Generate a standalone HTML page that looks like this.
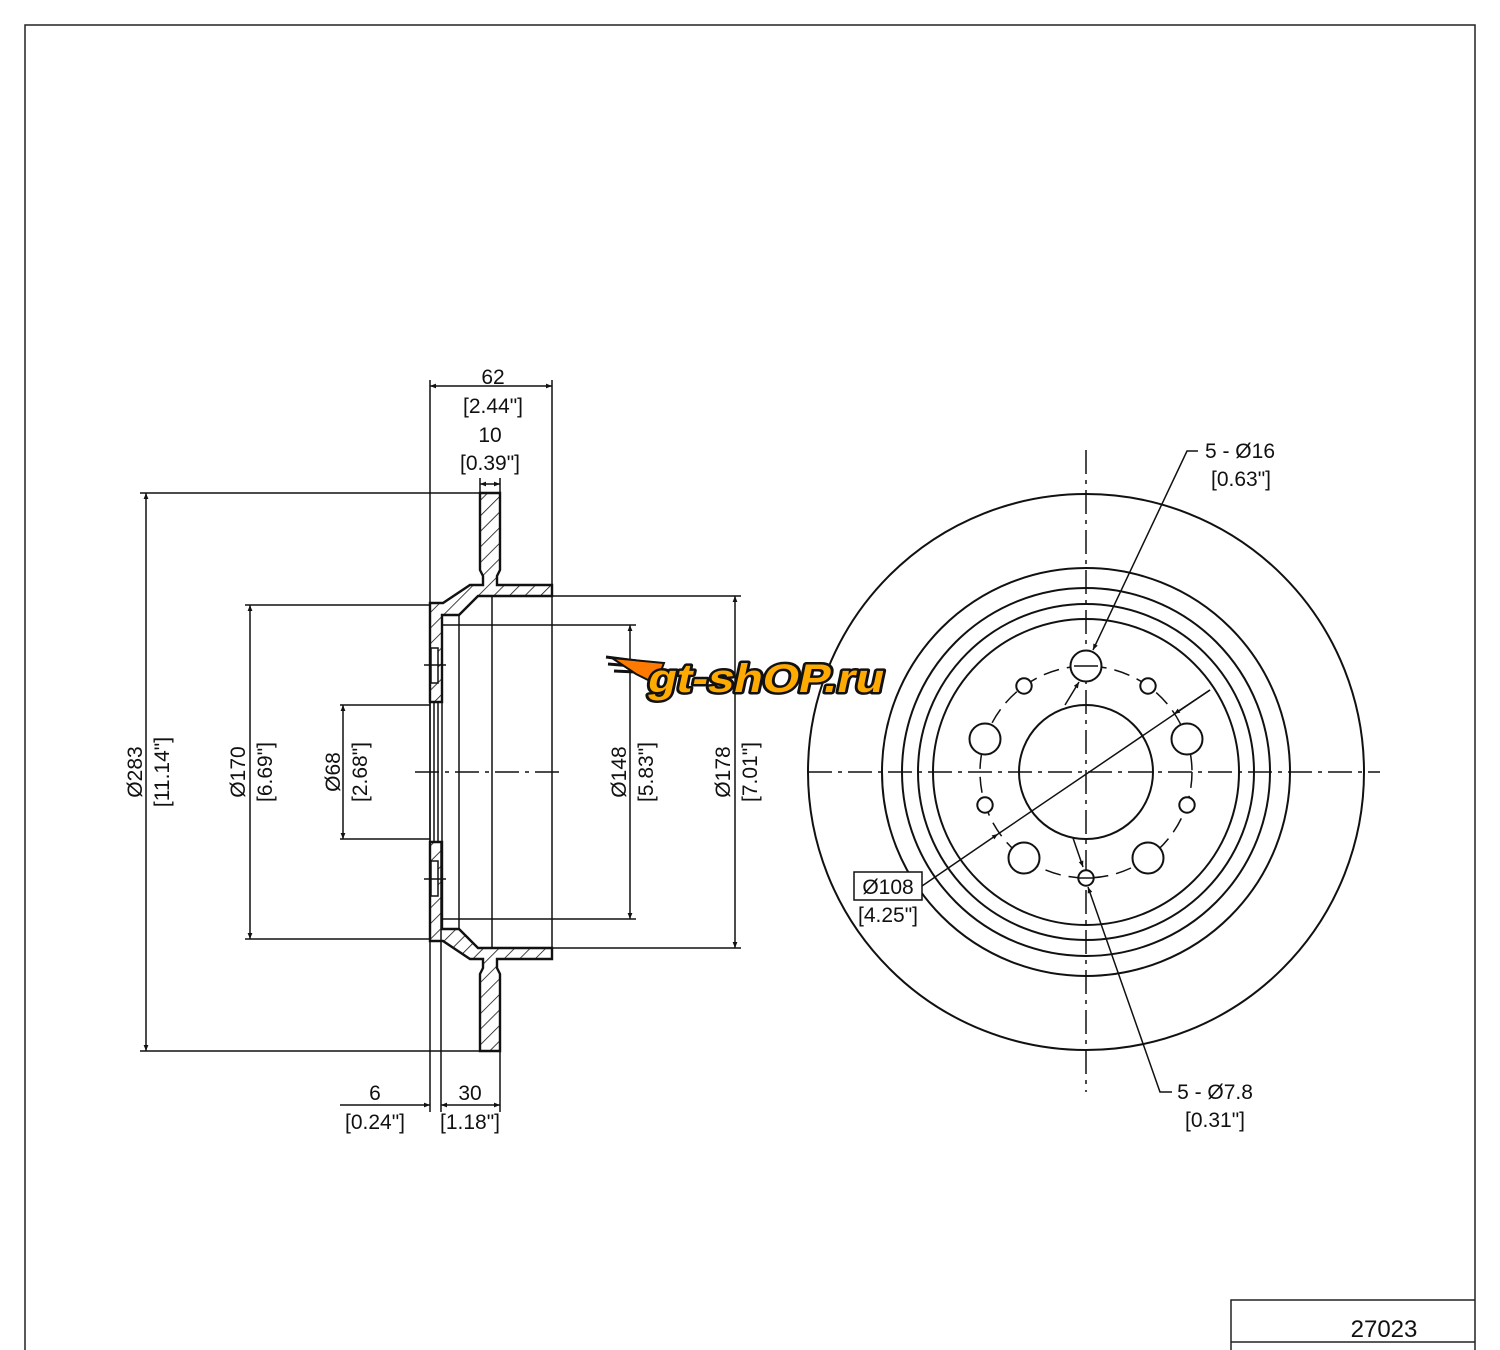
<!DOCTYPE html>
<html><head><meta charset="utf-8"><style>
html,body{margin:0;padding:0;background:#fff;}
svg{display:block;}
text{font-family:"Liberation Sans",sans-serif;}
</style></head><body>
<svg width="1500" height="1350" viewBox="0 0 1500 1350" xmlns="http://www.w3.org/2000/svg">
<defs>
<pattern id="h" patternUnits="userSpaceOnUse" width="11" height="11" patternTransform="rotate(45)">
<line x1="0" y1="0" x2="0" y2="11" stroke="#111" stroke-width="1.6"/>
</pattern>
<marker id="a" viewBox="0 0 10 10" refX="10" refY="5" markerWidth="13" markerHeight="6" orient="auto-start-reverse" markerUnits="userSpaceOnUse">
<path d="M0,1 L10,5 L0,9 z" fill="#111"/>
</marker>
</defs>
<rect width="1500" height="1350" fill="#fff"/>
<path d="M25,1350 V25 H1475 V1350" fill="none" stroke="#222" stroke-width="1.5"/>
<path d="M1231,1350 V1300 H1475 M1231,1342 H1475" fill="none" stroke="#222" stroke-width="1.5"/>
<text x="1384" y="1337" text-anchor="middle" font-size="24" fill="#111">27023</text>

<g stroke="#111" fill="none" stroke-width="1.5">
<path d="M480,493 H500 V570 L497,576 V585 H552 V596 H478 L459,615 H442 V702 H430 V603 H443 L470,585 H483 V576 L480,570 Z" fill="url(#h)" stroke-width="2.4"/>
<path d="M480,1051 H500 V974 L497,968 V959 H552 V948 H478 L459,929 H442 V842 H430 V941 H443 L470,959 H483 V968 L480,974 Z" fill="url(#h)" stroke-width="2.4"/>
<rect x="431" y="648" width="7" height="35" fill="#fff"/>
<rect x="431" y="861" width="7" height="35" fill="#fff"/>
<path d="M424,665 H446 M424,879 H446"/>
<path d="M459,615 V929 M492,596 V948 M552,596 V948"/>
<path d="M430,702 V842 M434,702 V842 M438,702 V842 M442,702 V842"/>
<line x1="415" y1="772" x2="565" y2="772" stroke-dasharray="24,6,4,6"/>

<path d="M430,380 V1112 M441,842 V1112 M500,1051 V1112 M552,380 V585 M480,478 V493 M500,478 V493"/>
<path d="M140,493 H480 M140,1051 H480 M245,605 H430 M245,939 H430 M340,705 H430 M340,839 H430 M442,625 H636 M442,919 H636 M552,596 H741 M552,948 H741"/>
<line x1="430" y1="386" x2="552" y2="386" marker-start="url(#a)" marker-end="url(#a)"/>
<line x1="480" y1="484" x2="500" y2="484" marker-start="url(#a)" marker-end="url(#a)"/>
<line x1="146" y1="493" x2="146" y2="1051" marker-start="url(#a)" marker-end="url(#a)"/>
<line x1="250" y1="605" x2="250" y2="939" marker-start="url(#a)" marker-end="url(#a)"/>
<line x1="343" y1="705" x2="343" y2="839" marker-start="url(#a)" marker-end="url(#a)"/>
<line x1="630" y1="625" x2="630" y2="919" marker-start="url(#a)" marker-end="url(#a)"/>
<line x1="735" y1="596" x2="735" y2="948" marker-start="url(#a)" marker-end="url(#a)"/>
<line x1="340" y1="1105" x2="430" y2="1105" marker-end="url(#a)"/>
<line x1="441" y1="1105" x2="500" y2="1105" marker-start="url(#a)" marker-end="url(#a)"/>

<circle cx="1086" cy="772" r="278" stroke-width="2"/>
<circle cx="1086" cy="772" r="204" stroke-width="2"/>
<circle cx="1086" cy="772" r="184" stroke-width="2"/>
<circle cx="1086" cy="772" r="168" stroke-width="2"/>
<circle cx="1086" cy="772" r="153" stroke-width="2"/>
<circle cx="1086" cy="772" r="67" stroke-width="2"/>
<circle cx="1086" cy="772" r="106" stroke-dasharray="16,8"/>
<line x1="1086" y1="450" x2="1086" y2="1092" stroke-dasharray="24,6,4,6"/>
<line x1="808" y1="772" x2="1380" y2="772" stroke-dasharray="24,6,4,6"/>
<g stroke-width="2" fill="#fff">
<circle cx="1086" cy="666" r="15.5"/><circle cx="1187" cy="739" r="15.5"/><circle cx="1148" cy="858" r="15.5"/><circle cx="1024" cy="858" r="15.5"/><circle cx="985" cy="739" r="15.5"/>
<circle cx="1086" cy="878" r="7.7"/><circle cx="1148" cy="686" r="7.7"/><circle cx="1187" cy="805" r="7.7"/><circle cx="985" cy="805" r="7.7"/><circle cx="1024" cy="686" r="7.7"/>
</g>
<path d="M1074,666 H1098 M1078,878 H1094"/>
<path d="M1198,451 H1187 L1093,650" marker-end="url(#a)"/>
<line x1="1065" y1="705" x2="1079" y2="682" marker-end="url(#a)"/>
<line x1="922" y1="886" x2="998" y2="834" marker-end="url(#a)"/>
<line x1="998" y1="834" x2="1210" y2="690"/>
<line x1="1210" y1="690" x2="1174" y2="714" marker-end="url(#a)"/>
<path d="M1172,1092 H1160 L1088,887" marker-end="url(#a)"/>
<line x1="1073" y1="838" x2="1083" y2="867" marker-end="url(#a)"/>
<rect x="854" y="872" width="68" height="28" fill="#fff"/>
</g>

<g text-anchor="middle" font-size="21" fill="#111">
<text x="493" y="384">62</text>
<text x="493" y="413">[2.44"]</text>
<text x="490" y="442">10</text>
<text x="490" y="470">[0.39"]</text>
<text x="375" y="1100">6</text>
<text x="375" y="1129">[0.24"]</text>
<text x="470" y="1100">30</text>
<text x="470" y="1129">[1.18"]</text>
<text transform="translate(142,772) rotate(-90)">Ø283</text>
<text transform="translate(169,772) rotate(-90)">[11.14"]</text>
<text transform="translate(245,772) rotate(-90)">Ø170</text>
<text transform="translate(272,772) rotate(-90)">[6.69"]</text>
<text transform="translate(340,772) rotate(-90)">Ø68</text>
<text transform="translate(367,772) rotate(-90)">[2.68"]</text>
<text transform="translate(626,772) rotate(-90)">Ø148</text>
<text transform="translate(653,772) rotate(-90)">[5.83"]</text>
<text transform="translate(730,772) rotate(-90)">Ø178</text>
<text transform="translate(757,772) rotate(-90)">[7.01"]</text>
<text x="888" y="894">Ø108</text>
<text x="888" y="922">[4.25"]</text>
<text x="1240" y="458">5 - Ø16</text>
<text x="1241" y="486">[0.63"]</text>
<text x="1215" y="1099">5 - Ø7.8</text>
<text x="1215" y="1127">[0.31"]</text>
</g>

<g>
<path d="M606,657 L660,664 M608,664 L658,668 M614,671 L656,673" stroke="#111" stroke-width="3"/>
<polygon points="612,658 664,663 656,684 636,674" fill="#ff7a00" stroke="#111" stroke-width="2"/>
<g transform="translate(646,692) skewX(-12)">
<text x="0" y="0" font-size="40" font-weight="bold" textLength="236" lengthAdjust="spacingAndGlyphs" fill="#111" stroke="#111" stroke-width="5" stroke-linejoin="round">gt-shOP.ru</text>
<text x="0" y="0" font-size="40" font-weight="bold" textLength="236" lengthAdjust="spacingAndGlyphs" fill="#ffaa00">gt-shOP.ru</text>
</g>
</g>
</svg>
</body></html>
